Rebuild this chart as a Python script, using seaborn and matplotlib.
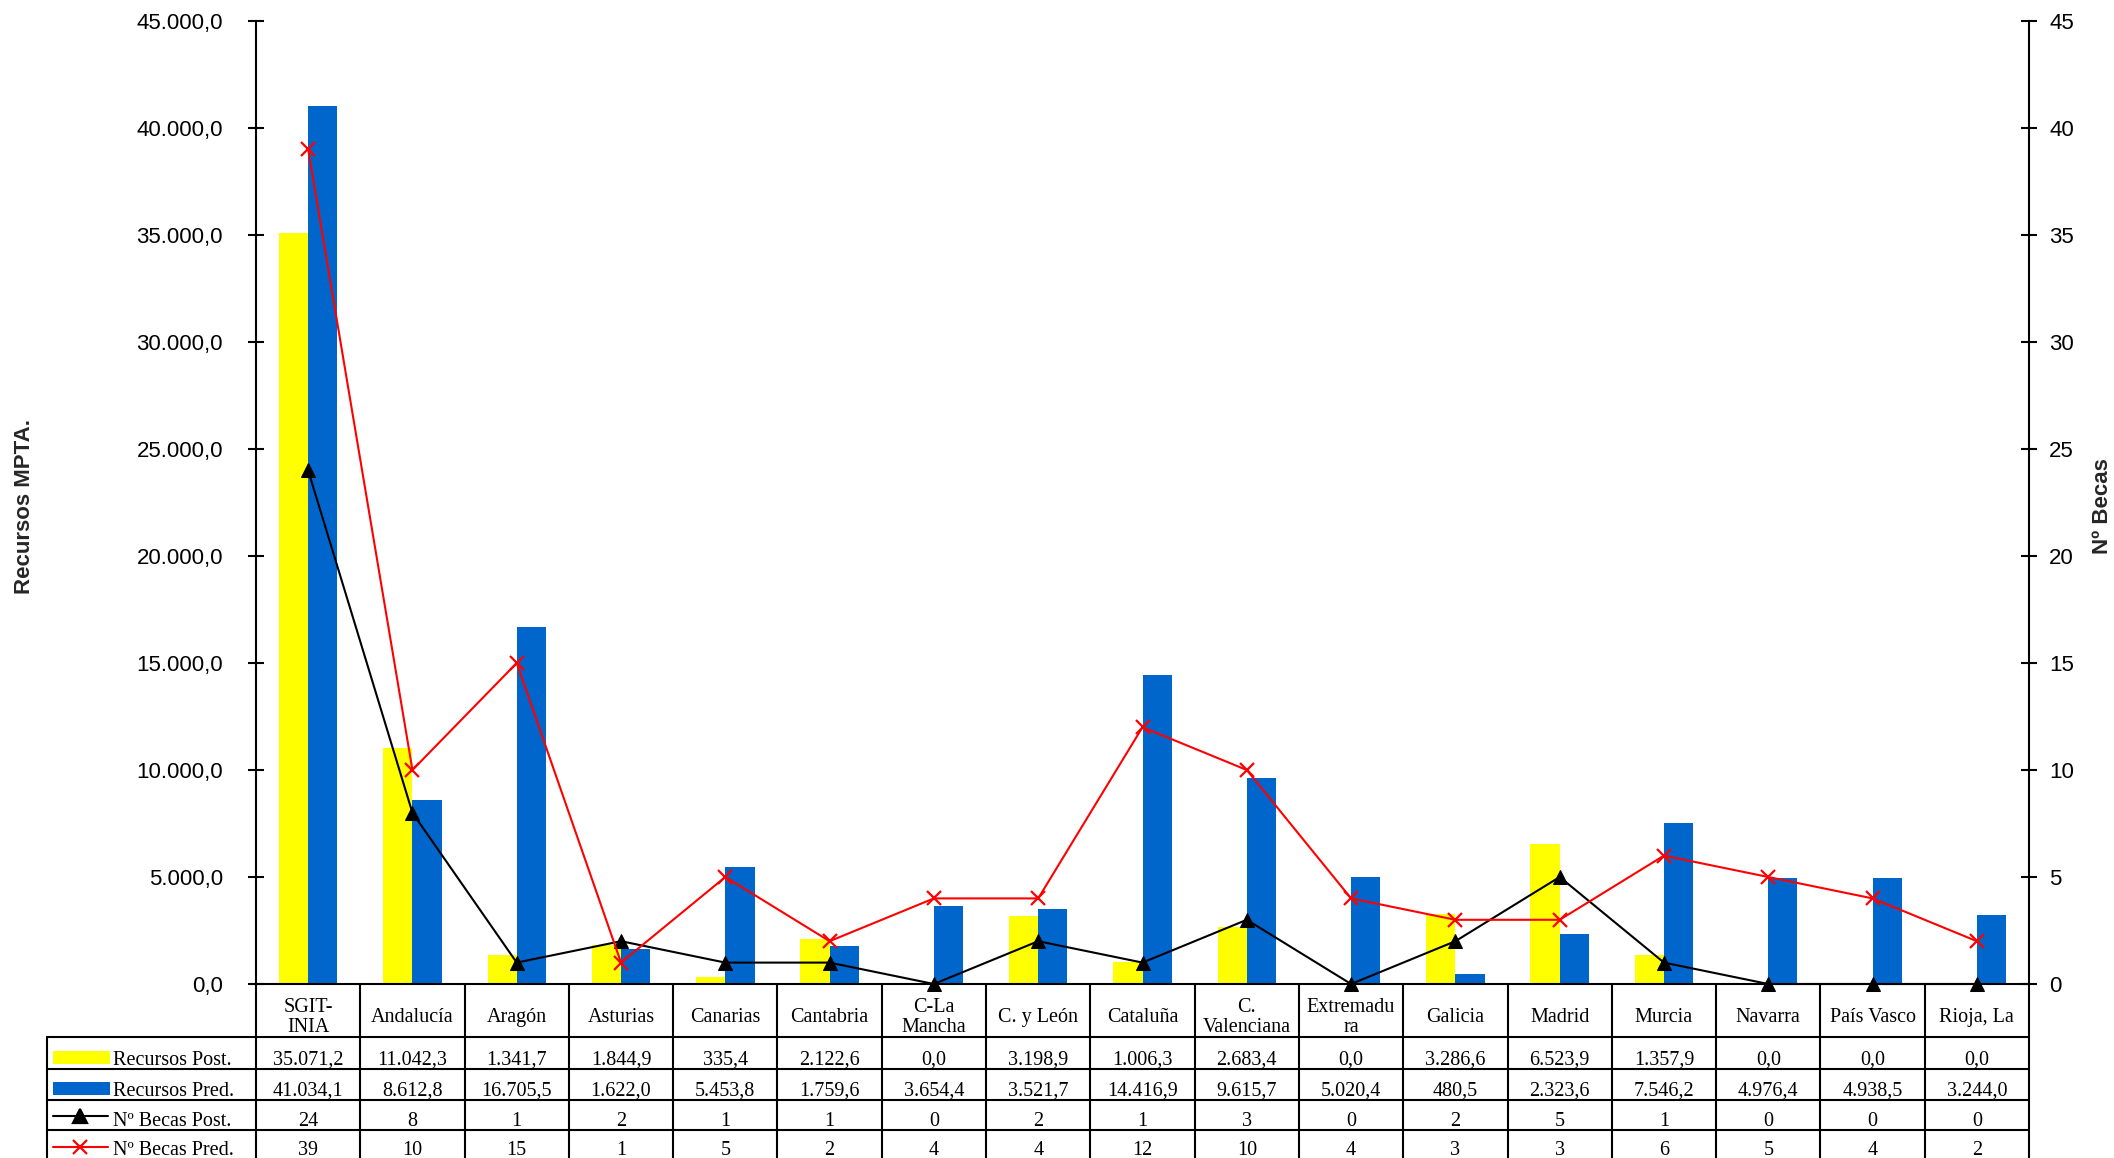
import numpy as np
import pandas as pd
import matplotlib
matplotlib.use("Agg")
import matplotlib.pyplot as plt
import seaborn as sns
from matplotlib.lines import Line2D
from matplotlib.patches import Rectangle
from matplotlib.ticker import FuncFormatter, MultipleLocator
from matplotlib.transforms import blended_transform_factory

# ---- data -------------------------------------------------------------
categories = ["SGIT-\nINIA", "Andalucía", "Aragón", "Asturias", "Canarias",
              "Cantabria", "C-La\nMancha", "C. y León", "Cataluña",
              "C.\nValenciana", "Extremadu\nra", "Galicia", "Madrid",
              "Murcia", "Navarra", "País Vasco", "Rioja, La"]
recursos_post = [35071.2, 11042.3, 1341.7, 1844.9, 335.4, 2122.6, 0.0, 3198.9,
                 1006.3, 2683.4, 0.0, 3286.6, 6523.9, 1357.9, 0.0, 0.0, 0.0]
recursos_pred = [41034.1, 8612.8, 16705.5, 1622.0, 5453.8, 1759.6, 3654.4,
                 3521.7, 14416.9, 9615.7, 5020.4, 480.5, 2323.6, 7546.2,
                 4976.4, 4938.5, 3244.0]
becas_post = [24, 8, 1, 2, 1, 1, 0, 2, 1, 3, 0, 2, 5, 1, 0, 0, 0]
becas_pred = [39, 10, 15, 1, 5, 2, 4, 4, 12, 10, 4, 3, 3, 6, 5, 4, 2]
series_names = ["Recursos Post.", "Recursos Pred.", "Nº Becas Post.", "Nº Becas Pred."]

right_ticks = list(range(0, 46, 5))

# ---- style ------------------------------------------------------------
YELLOW = "#FFFF00"
BLUE = "#0066CC"
SANS = "Liberation Sans"
SERIF = "Liberation Serif"

sns.set_theme(style="white")
plt.rcParams["font.family"] = [SANS, "DejaVu Sans"]
plt.rcParams["axes.linewidth"] = 1.5

W, H = 2114, 1158
fig = plt.figure(figsize=(W / 100, H / 100), dpi=100)
fig.patch.set_facecolor("white")


def fx(px):
    return px / W


def fy(py):
    return 1 - py / H


AX_L, AX_R, AX_T, AX_B = 256, 2029, 21, 984
ax = fig.add_axes([fx(AX_L), fy(AX_B), fx(AX_R - AX_L), (AX_B - AX_T) / H])


def es_num(v, dec=1):
    s = f"{v:,.{dec}f}"
    return s.replace(",", "X").replace(".", ",").replace("X", ".")


# ---- bars -------------------------------------------------------------
bars = pd.DataFrame({
    "categoria": categories * 2,
    "valor": recursos_post + recursos_pred,
    "serie": [series_names[0]] * len(categories) + [series_names[1]] * len(categories),
})
sns.barplot(data=bars, x="categoria", y="valor", hue="serie", order=categories,
            hue_order=series_names[:2], palette=[YELLOW, BLUE], saturation=1,
            width=0.56, linewidth=0, edgecolor="none", legend=False, ax=ax)

ax.set_ylim(0, 45000)
ax.yaxis.set_major_locator(MultipleLocator(5000))
ax.yaxis.set_major_formatter(FuncFormatter(lambda v, p: es_num(v, 1)))
ax.tick_params(axis="y", direction="inout", length=11.5, width=1.5, pad=18,
               labelsize=16, colors="black", left=True)
ax.tick_params(axis="x", length=0, labelbottom=False, bottom=False)
ax.set_xlabel("")
ax.set_ylabel("Recursos MPTA.", fontsize=16, fontweight="bold", family=SANS)
ax.yaxis.set_label_coords((24 - AX_L) / (AX_R - AX_L), 0.496)
ax.yaxis.label.set_va("center")
for s in ["top", "right"]:
    ax.spines[s].set_visible(False)
for s in ["left", "bottom"]:
    ax.spines[s].set_color("black")
    ax.spines[s].set_linewidth(1.5)

# ---- lines on secondary axis -----------------------------------------
ax2 = ax.twinx()
xpos = np.arange(len(categories))
sns.lineplot(x=xpos, y=becas_post, ax=ax2, color="black", linewidth=1.5,
             marker="^", markersize=10, markeredgecolor="black",
             markerfacecolor="black", clip_on=False, legend=False, zorder=5)
sns.lineplot(x=xpos, y=becas_pred, ax=ax2, color="#FF0000", linewidth=1.5,
             marker="x", markersize=10, markeredgewidth=1.6,
             markeredgecolor="#FF0000", clip_on=False, legend=False, zorder=5)
ax2.set_ylim(0, 45)
ax2.set_yticks(right_ticks)
ax2.yaxis.set_major_formatter(FuncFormatter(lambda v, p: f"{int(v)}"))
ax2.tick_params(axis="y", direction="inout", length=11.5, width=1.5, pad=8.7,
                labelsize=16, colors="black", right=True)
ax2.set_xlabel("")
ax2.set_ylabel("Nº Becas", fontsize=16, fontweight="bold", family=SANS)
ax2.yaxis.set_label_coords((2102 - AX_L) / (AX_R - AX_L), 0.496)
ax2.yaxis.label.set_va("center")
for s in ["top", "left", "bottom"]:
    ax2.spines[s].set_visible(False)
ax2.spines["right"].set_color("black")
ax2.spines["right"].set_linewidth(1.5)
ax2.grid(False)
ax.grid(False)
ax.set_xlim(-0.5, len(categories) - 0.5)

# ---- data table -------------------------------------------------------
tr = blended_transform_factory(ax.transData, fig.transFigure)
LW = 1.5
TAB_L = 47
HEADER_B = 1037
row_bottoms = [1069, 1100, 1130, 1161]

for y in [HEADER_B] + row_bottoms[:-1]:
    fig.add_artist(Line2D([fx(TAB_L), fx(AX_R)], [fy(y), fy(y)],
                          transform=fig.transFigure, color="black", lw=LW))
fig.add_artist(Line2D([fx(TAB_L), fx(TAB_L)], [fy(HEADER_B), fy(H + 5)],
                      transform=fig.transFigure, color="black", lw=LW))
for i in range(len(categories) + 1):
    fig.add_artist(Line2D([i - 0.5, i - 0.5], [fy(AX_B), fy(H + 5)],
                          transform=tr, color="black", lw=LW))

# header cells: one or two centred lines each
for i, name in enumerate(categories):
    parts = name.split("\n")
    baselines = [1022] if len(parts) == 1 else [1012, 1032]
    for part, b in zip(parts, baselines):
        ax.text(i, fy(b), part, transform=tr, ha="center", va="baseline",
                fontsize=14.5, family=SERIF, color="black")

rows = [
    [es_num(v, 1) for v in recursos_post],
    [es_num(v, 1) for v in recursos_pred],
    [str(v) for v in becas_post],
    [str(v) for v in becas_pred],
]
for r, (vals, rb) in enumerate(zip(rows, row_bottoms)):
    base = min(rb - 4, H - 3)
    for i, t in enumerate(vals):
        ax.text(i, fy(base), t, transform=tr, ha="center", va="baseline",
                fontsize=14.5, family=SERIF, color="black")
    fig.text(fx(113), fy(base), series_names[r], ha="left", va="baseline",
             fontsize=14.5, family=SERIF, color="black")

# legend keys inside the table
for r, color in enumerate([YELLOW, BLUE]):
    top = row_bottoms[r] - 18
    fig.add_artist(Rectangle((fx(53), fy(top + 13)), fx(57), 13 / H,
                             transform=fig.transFigure, facecolor=color,
                             edgecolor="none"))
for r, (color, mk) in enumerate([("black", "^"), ("#FF0000", "x")], start=2):
    yk = row_bottoms[r] - 14
    fig.add_artist(Line2D([fx(53), fx(108)], [fy(yk), fy(yk)],
                          transform=fig.transFigure, color=color, lw=1.5))
    fig.add_artist(Line2D([fx(80)], [fy(yk)], transform=fig.transFigure,
                          color=color, marker=mk, markersize=10,
                          markeredgewidth=1.6, markerfacecolor=color,
                          markeredgecolor=color, linestyle="none"))

fig.savefig("out.png", dpi=100, facecolor="white")
